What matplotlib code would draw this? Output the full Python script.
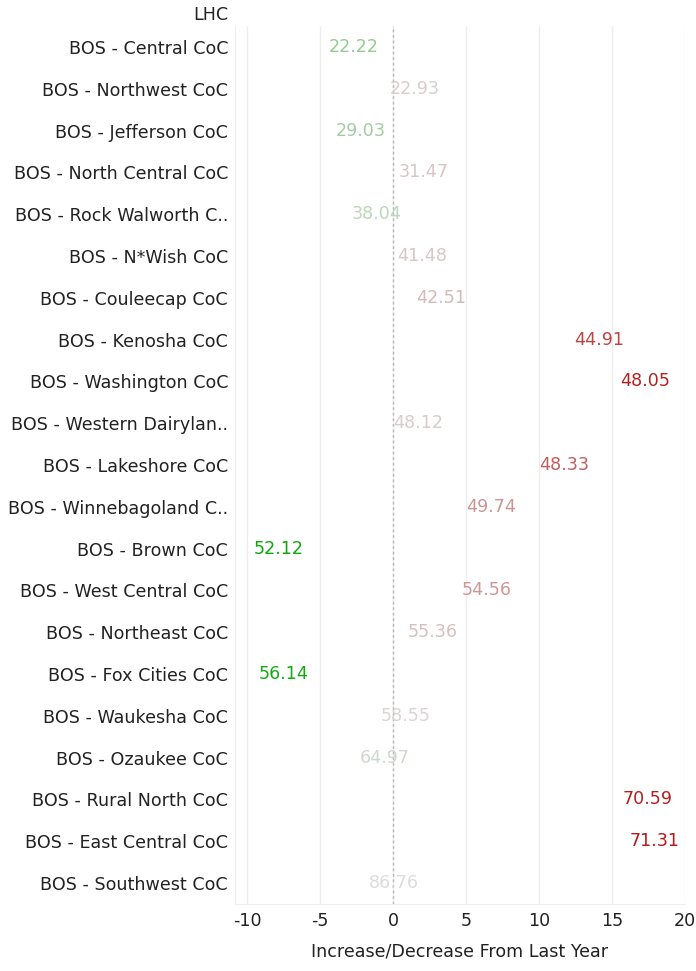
import matplotlib
matplotlib.use("Agg")
import matplotlib.pyplot as plt
from matplotlib.colors import LinearSegmentedColormap, TwoSlopeNorm

categories = [
    "BOS - Central CoC", "BOS - Northwest CoC", "BOS - Jefferson CoC",
    "BOS - North Central CoC", "BOS - Rock Walworth C..", "BOS - N*Wish CoC",
    "BOS - Couleecap CoC", "BOS - Kenosha CoC", "BOS - Washington CoC",
    "BOS - Western Dairylan..", "BOS - Lakeshore CoC", "BOS - Winnebagoland C..",
    "BOS - Brown CoC", "BOS - West Central CoC", "BOS - Northeast CoC",
    "BOS - Fox Cities CoC", "BOS - Waukesha CoC", "BOS - Ozaukee CoC",
    "BOS - Rural North CoC", "BOS - East Central CoC", "BOS - Southwest CoC",
]
values = [22.22, 22.93, 29.03, 31.47, 38.04, 41.48, 42.51, 44.91, 48.05, 48.12,
          48.33, 49.74, 52.12, 54.56, 55.36, 56.14, 58.55, 64.97, 70.59, 71.31, 86.76]
change = [-2.7, 1.5, -2.2, 2.1, -1.1, 2.0, 3.3, 14.1, 17.3, 1.7,
          11.7, 6.7, -7.8, 6.4, 2.7, -7.5, 0.85, -0.55, 17.45, 17.9, 0.05]
xticks = [-10, -5, 0, 5, 10, 15, 20]

cmap = LinearSegmentedColormap.from_list("gr", ["#0aa80a", "#dddddd", "#b01010"])
norm = TwoSlopeNorm(vmin=-7.8, vcenter=0, vmax=19.0)

fig = plt.figure(figsize=(6.96, 9.71), dpi=100)
ax = fig.add_axes([235/696, 67/971, (685-235)/696, (904-26)/971])

n = len(categories)
ys = list(range(n))
for y, v, c in zip(ys, values, change):
    ax.text(c, y, f"{v:.2f}", ha="center", va="center", fontsize=12.6,
            color=cmap(norm(c)), zorder=3)

ax.set_xlim(-10.82, 19.9)
ax.set_ylim(n - 0.5, -0.5)
ax.set_yticks(ys)
ax.set_yticklabels(categories, fontsize=12.6, color="#222222")
ax.set_xticks(xticks)
ax.set_xticklabels([str(t) for t in xticks], fontsize=12.6, color="#222222")
ax.tick_params(axis="y", length=0, pad=5)
ax.tick_params(axis="x", length=0, pad=6)
ax.set_axisbelow(True)
ax.grid(axis="x", color="#eeeeee", linewidth=1)
ax.axvline(0, color="#b8b8b8", linestyle=(0, (2, 2)), linewidth=1, zorder=2)
for s in ["top", "right"]:
    ax.spines[s].set_visible(False)
for s in ["left", "bottom"]:
    ax.spines[s].set_color("#eeeeee")
ax.set_xlabel("Increase/Decrease From Last Year", fontsize=12.6, color="#222222", labelpad=9)
fig.text(228/696, 1 - 15/971, "LHC", ha="right", va="center", fontsize=12.6, color="#222222")

fig.savefig("out.png", dpi=100)
